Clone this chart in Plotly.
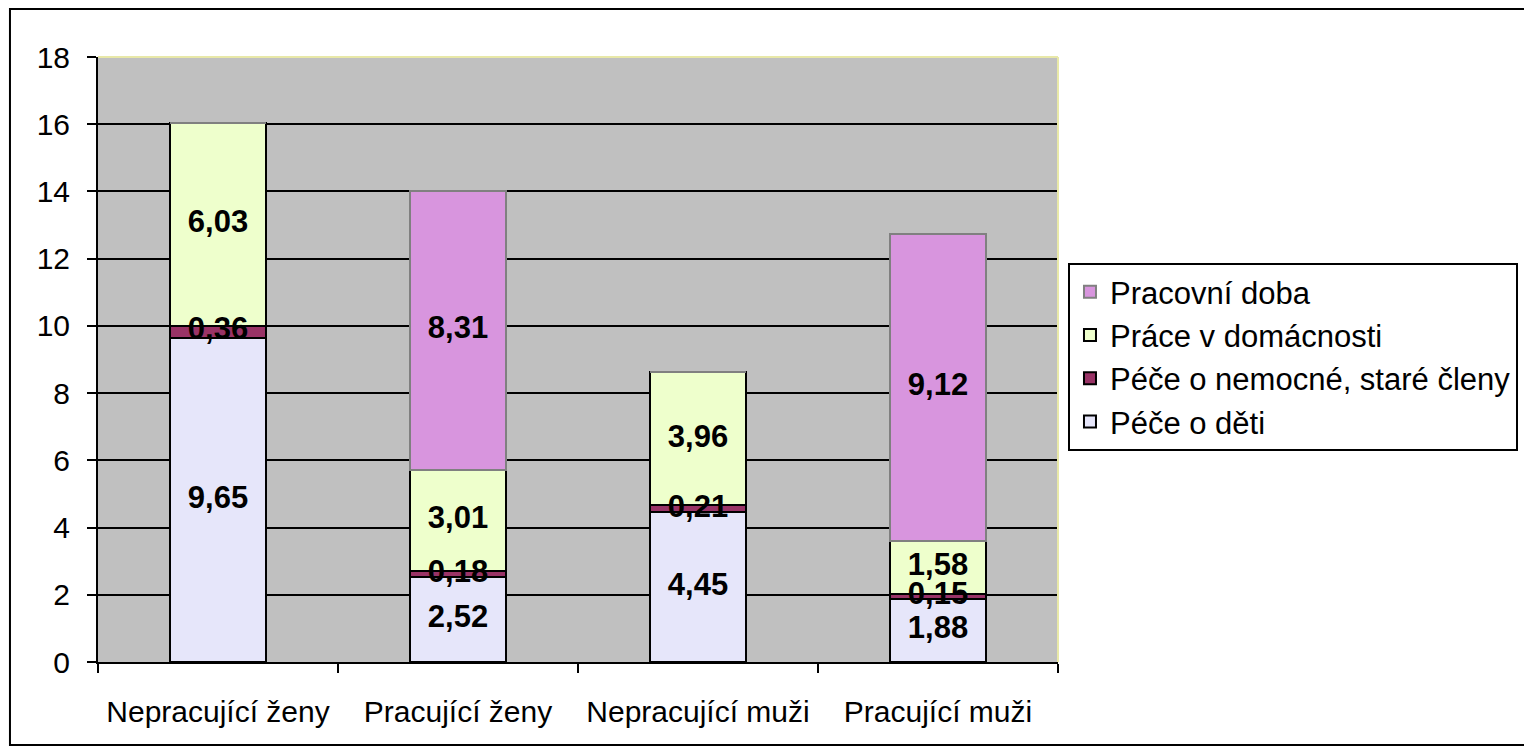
import plotly.graph_objects as go

categories = ["Nepracující ženy", "Pracující ženy", "Nepracující muži", "Pracující muži"]
series_names = ["Péče o děti", "Péče o nemocné, staré členy", "Práce v domácnosti", "Pracovní doba"]
pece_o_deti = [9.65, 2.52, 4.45, 1.88]
pece_o_nemocne = [0.36, 0.18, 0.21, 0.15]
prace_v_domacnosti = [6.03, 3.01, 3.96, 1.58]
pracovni_doba = [None, 8.31, None, 9.12]
y_ticks = [0, 2, 4, 6, 8, 10, 12, 14, 16, 18]

series_values = [pece_o_deti, pece_o_nemocne, prace_v_domacnosti, pracovni_doba]
fills = ["#E6E6FA", "#993366", "#EEFFCC", "#D895DE"]
outlines = ["#000000", "#000000", "#000000", "#808080"]

FONT = "Arial, Liberation Sans, sans-serif"

fig = go.Figure()
for k, (name, vals, fc, lc) in enumerate(zip(series_names, series_values, fills, outlines)):
    fig.add_trace(go.Bar(
        x=categories, y=[v if v is not None else 0 for v in vals], name=name,
        legendgroup=f"g{k}",
        marker=dict(color=fc, line=dict(color=lc, width=2)),
        hoverinfo="skip",
    ))

# data labels at segment midpoints
lx, ly, lt = [], [], []
base = [0.0] * len(categories)
for vals in series_values:
    for i, v in enumerate(vals):
        if v is None:
            continue
        lx.append(categories[i])
        ly.append(base[i] + v / 2)
        lt.append(f"{v:.2f}".replace(".", ","))
        base[i] += v
fig.add_trace(go.Scatter(
    x=lx, y=ly, text=lt, mode="text", showlegend=False, hoverinfo="skip",
    textfont=dict(family=FONT, size=31, color="#000000"),
    texttemplate="<b>%{text}</b>",
))

fig.update_layout(
    width=1524, height=742,
    barmode="stack", bargap=0.6,
    paper_bgcolor="#FFFFFF", plot_bgcolor="#C0C0C0",
    margin=dict(l=90, r=474, t=49, b=88, pad=0),
    font=dict(family=FONT, size=30, color="#000000"),
    showlegend=True,
    legend=dict(
        x=1.0104, y=0.6595, xanchor="left", yanchor="top",
        traceorder="reversed",
        bgcolor="#FFFFFF", bordercolor="#000000", borderwidth=2,
        font=dict(family=FONT, size=31, color="#000000"),
        itemsizing="constant",
        tracegroupgap=11,
    ),
    xaxis=dict(
        showline=True, linecolor="#000000", linewidth=2,
        ticks="outside", tickson="boundaries", ticklen=9, tickwidth=2, tickcolor="#000000",
        showgrid=False, ticklabelstandoff=22,
    ),
    yaxis=dict(
        range=[0, 18], tickvals=y_ticks, ticktext=[str(t) for t in y_ticks],
        showline=True, linecolor="#000000", linewidth=2,
        ticks="outside", ticklen=9, tickwidth=2, tickcolor="#000000",
        showgrid=True, gridcolor="#000000", gridwidth=2,
        zeroline=False, ticklabelstandoff=11,
    ),
    shapes=[
        dict(type="rect", xref="paper", yref="paper", x0=-0.0917, x1=1.4906, y0=-0.1372, y1=1.0793,
             line=dict(color="#000000", width=2), fillcolor="rgba(0,0,0,0)", layer="above"),
        dict(type="line", xref="paper", yref="paper", x0=0, x1=1, y0=1, y1=1,
             line=dict(color="#E8E8A8", width=2)),
        dict(type="line", xref="paper", yref="paper", x0=1, x1=1, y0=0, y1=1,
             line=dict(color="#E8E8A8", width=2)),
    ],
)

fig.write_html("out.html")
